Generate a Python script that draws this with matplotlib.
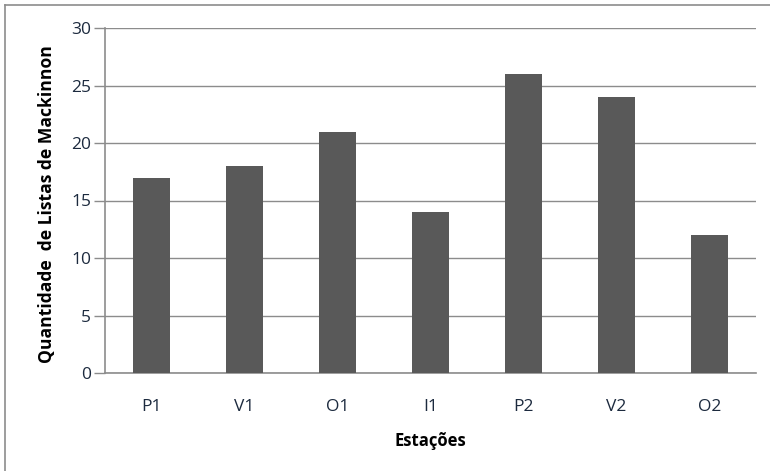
import matplotlib.pyplot as plt
from matplotlib.lines import Line2D

estacoes = ['P1', 'V1', 'O1', 'I1', 'P2', 'V2', 'O2']
listas = [17, 18, 21, 14, 26, 24, 12]
y_ticks = [0, 5, 10, 15, 20, 25, 30]

plt.rcParams['font.family'] = ['Open Sans', 'DejaVu Sans']

fig = plt.figure(figsize=(7.7, 4.71), dpi=100)
ax = fig.add_axes([105 / 770, 1 - 373 / 471, 651 / 770, 345 / 471])

x = range(len(estacoes))
ax.bar(x, listas, width=0.4, color='#595959', zorder=3)

ax.set_xlim(-0.5, len(estacoes) - 0.5)
ax.set_ylim(0, 30)
ax.set_yticks(y_ticks)
ax.set_xticks(list(x))
ax.set_xticklabels(estacoes)

ax.grid(axis='y', color='#8c8c8c', linewidth=1.0, zorder=0)
for side in ['top', 'right']:
    ax.spines[side].set_visible(False)
for side in ['left', 'bottom']:
    ax.spines[side].set_color('#8c8c8c')
    ax.spines[side].set_linewidth(1.2)

ax.tick_params(axis='y', length=8, width=1.0, color='#8c8c8c', pad=2,
               labelsize=12.5, labelcolor='#1c2a3e')
ax.tick_params(axis='x', length=0, pad=19, labelsize=12.5,
               labelcolor='#1c2a3e')

ax.set_xlabel('Estações', fontsize=12, fontweight='bold', labelpad=12)
ax.set_ylabel('Quantidade  de Listas de Mackinnon', fontsize=12.6,
              fontweight='bold')
ax.yaxis.set_label_coords(-49 / 651, 0.49)

# outer chart frame (top and left edges)
fig.add_artist(Line2D([4.5 / 770, 1.0], [1 - 4.5 / 471, 1 - 4.5 / 471],
                      transform=fig.transFigure, color='#8c8c8c', linewidth=1.2))
fig.add_artist(Line2D([4.5 / 770, 4.5 / 770], [0, 1 - 4.5 / 471],
                      transform=fig.transFigure, color='#8c8c8c', linewidth=1.2))

fig.savefig('out.png', dpi=100)
